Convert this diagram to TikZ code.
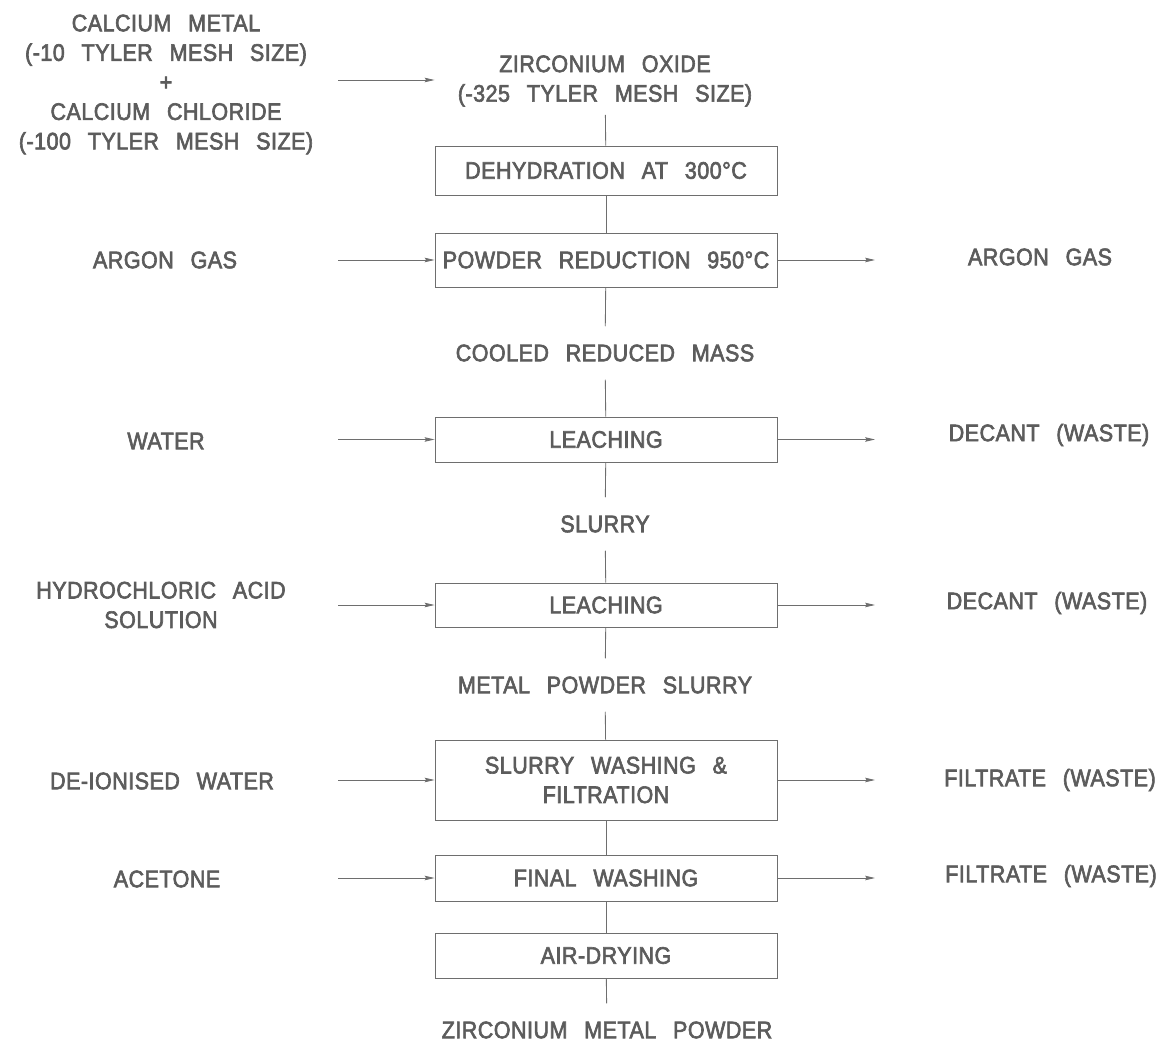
\documentclass[tikz,border=0pt]{standalone}
\usepackage{fontspec}
\setmainfont{Liberation Sans}[FakeStretch=0.9,LetterSpace=2,WordSpace=2.6,FakeBold=2.6]
\usetikzlibrary{arrows.meta}
\definecolor{ink}{RGB}{92,92,92}
\definecolor{rule}{RGB}{110,110,110}

\begin{document}
\begin{tikzpicture}[
  x=0.025cm, y=-0.025cm,
  every node/.style={text=ink,font=\fontsize{17}{21}\selectfont,align=center},
  stream/.style={inner xsep=2pt,inner ysep=0.45cm},
  opbox/.style={draw=rule,line width=0.6pt,inner sep=0pt,minimum width=8.55cm},
  flow/.style={draw=rule,line width=0.6pt,-{Stealth[length=7pt,width=3.2pt,inset=1pt]}},
  pipe/.style={draw=rule,line width=0.6pt}
]
  \useasboundingbox (0,0) rectangle (1164,1043);
  \coordinate (in) at (338,0);
  \coordinate (out) at (875,0);

  % feed and main column
  \node[stream,inner ysep=0.2cm] (ca) at (166,84.5) {CALCIUM METAL\\(-10 TYLER MESH SIZE)\\+\\CALCIUM CHLORIDE\\(-100 TYLER MESH SIZE)};
  \node[stream,inner ysep=0.2cm] (ox) at (605,81) {ZIRCONIUM OXIDE\\(-325 TYLER MESH SIZE)};
  \node[opbox,minimum height=1.225cm] (dehy) at (606,170.5) {DEHYDRATION AT 300°C};
  \node[opbox,minimum height=1.35cm] (red) at (606,260) {POWDER REDUCTION 950°C};
  \node[stream] (cool) at (605,353) {COOLED REDUCED MASS};
  \node[opbox,minimum height=1.125cm] (leach1) at (606,439.5) {LEACHING};
  \node[stream] (slurry) at (605,524) {SLURRY};
  \node[opbox,minimum height=1.1cm] (leach2) at (606,605) {LEACHING};
  \node[stream] (mps) at (605,685) {METAL POWDER SLURRY};
  \node[opbox,minimum height=2cm] (wash) at (606,780) {SLURRY WASHING \&\\FILTRATION};
  \node[opbox,minimum height=1.15cm] (final) at (606,878) {FINAL WASHING};
  \node[opbox,minimum height=1.125cm] (dry) at (606,955.5) {AIR-DRYING};
  \node[stream] (zmp) at (607,1030) {ZIRCONIUM METAL POWDER};

  % side streams
  \node (argin) at (165,260) {ARGON GAS};
  \node (water) at (166,441) {WATER};
  \node (hcl) at (161,605) {HYDROCHLORIC ACID\\SOLUTION};
  \node (diw) at (162,781) {DE-IONISED WATER};
  \node (acet) at (167,879) {ACETONE};
  \node (argout) at (1040,257) {ARGON GAS};
  \node (dec1) at (1049,435) {DECANT (WASTE)};
  \node (dec2) at (1047,603) {DECANT (WASTE)};
  \node (filt1) at (1050,780) {FILTRATE (WASTE)};
  \node (filt2) at (1051,876) {FILTRATE (WASTE)};

  \draw[flow] (in |- 0,80) -- (dehy.west |- 0,80);
  \foreach \a/\b in {ox/dehy,dehy/red,red/cool,cool/leach1,leach1/slurry,slurry/leach2,leach2/mps,mps/wash,wash/final,final/dry,dry/zmp}
    \draw[pipe] (\a) -- (\b);
  \foreach \u in {red,leach1,leach2,wash,final} {
    \draw[flow] (in |- \u.west) -- (\u.west);
    \draw[flow] (\u.east) -- (out |- \u.east);
  }
\end{tikzpicture}
\end{document}
